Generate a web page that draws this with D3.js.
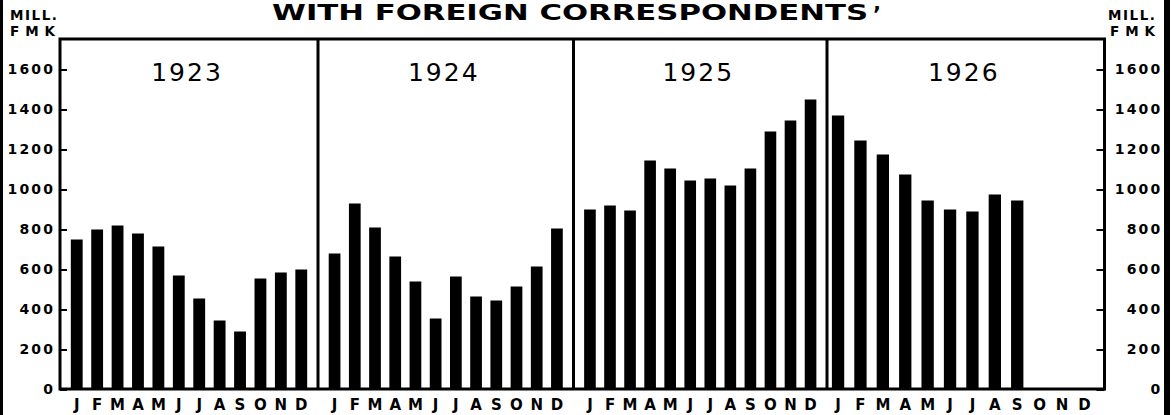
<!DOCTYPE html>
<html>
<head>
<meta charset="utf-8">
<script src="https://cdn.jsdelivr.net/npm/d3@7"></script>
<style>
  html, body { margin: 0; padding: 0; background: #fff; }
  svg { display: block; }
</style>
</head>
<body>
<svg id="chart" width="1172" height="415"></svg>
<script>
// ---- data ----
const titleText = "WITH FOREIGN CORRESPONDENTS";
const unitLine1 = "MILL.";
const unitLine2 = "FMK";
const years = ["1923", "1924", "1925", "1926"];
const months = ["J", "F", "M", "A", "M", "J", "J", "A", "S", "O", "N", "D"];
const values1923 = [750, 800, 820, 780, 715, 570, 455, 345, 290, 555, 585, 600];
const values1924 = [680, 930, 810, 665, 540, 355, 565, 465, 445, 515, 615, 805];
const values1925 = [900, 920, 895, 1145, 1105, 1045, 1055, 1020, 1105, 1290, 1345, 1450];
const values1926 = [1370, 1245, 1175, 1075, 945, 900, 890, 975, 945, null, null, null];
const yTicks = [0, 200, 400, 600, 800, 1000, 1200, 1400, 1600];

const seriesByYear = [values1923, values1924, values1925, values1926];

// ---- layout ----
const svg = d3.select("#chart");
const W = 1172, H = 415;
const plotLeft = 60, plotRight = 1104.5, plotTop = 39, plotBottom = 389;
const panelEdges = [plotLeft, 318, 573.5, 827, plotRight];

svg.append("rect").attr("width", W).attr("height", H).attr("fill", "#fff");

const y = d3.scaleLinear().domain([0, 1750]).range([389.5, 39.5]);

const boldFont = "'DejaVu Sans', sans-serif";

// panel scales (one band scale per year panel)
const panelScales = years.map((yr, i) => {
  const s = d3.scaleBand().domain(d3.range(12)).range([panelEdges[i], panelEdges[i + 1]]);
  if (i === 3) s.paddingInner(0.45).paddingOuter(0.42).align(0.26);
  else s.paddingInner(0.42).paddingOuter(0.53).align(0.5);
  return s;
});

// bars
years.forEach((yr, i) => {
  const x = panelScales[i];
  const data = seriesByYear[i].map((v, m) => ({ v, m })).filter(d => d.v != null);
  svg.append("g").selectAll("rect").data(data).join("rect")
    .attr("x", d => x(d.m))
    .attr("width", x.bandwidth())
    .attr("y", d => y(d.v))
    .attr("height", d => y(0) - y(d.v))
    .attr("fill", "#000");

  // month labels
  svg.append("g").selectAll("text").data(months).join("text")
    .attr("x", (d, m) => x(m) + x.bandwidth() / 2)
    .attr("y", 410)
    .attr("text-anchor", "middle")
    .attr("font-family", boldFont)
    .attr("font-weight", "bold")
    .attr("font-size", 15)
    .attr("fill", "#000")
    .text(d => d);

  // year label
  svg.append("text")
    .attr("x", (panelEdges[i] + panelEdges[i + 1]) / 2 - 2)
    .attr("y", 81)
    .attr("text-anchor", "middle")
    .attr("font-family", "'DejaVu Sans', sans-serif")
    .attr("font-size", 25)
    .attr("letter-spacing", 2)
    .attr("fill", "#000")
    .text(yr);
});

// axes (inward ticks)
const leftAxis = d3.axisLeft(y).tickValues(yTicks).tickSize(-7).tickPadding(7).tickFormat(d3.format("d"));
const gl = svg.append("g").attr("transform", `translate(${plotLeft},0)`).call(leftAxis);
gl.select(".domain").remove();
gl.selectAll(".tick line").attr("stroke", "#000").attr("stroke-width", 2);
gl.selectAll(".tick text")
  .attr("font-family", boldFont).attr("font-weight", "bold").attr("font-size", 14)
  .attr("letter-spacing", 2.2).attr("fill", "#000").attr("dx", 2.2);

const rightAxis = d3.axisRight(y).tickValues(yTicks).tickSize(-8).tickPadding(0).tickFormat(d3.format("d"));
const gr = svg.append("g").attr("transform", `translate(${plotRight},0)`).call(rightAxis);
gr.select(".domain").remove();
gr.selectAll(".tick line").attr("stroke", "#000").attr("stroke-width", 2);
gr.selectAll(".tick text")
  .attr("text-anchor", "end").attr("x", 58)
  .attr("font-family", boldFont).attr("font-weight", "bold").attr("font-size", 14)
  .attr("letter-spacing", 2.2).attr("fill", "#000");

// frame and panel dividers
svg.append("rect")
  .attr("x", plotLeft).attr("y", plotTop)
  .attr("width", plotRight - plotLeft).attr("height", plotBottom - plotTop)
  .attr("fill", "none").attr("stroke", "#000").attr("stroke-width", 3);
svg.append("g").selectAll("line").data(panelEdges.slice(1, 4)).join("line")
  .attr("x1", d => d).attr("x2", d => d)
  .attr("y1", plotTop).attr("y2", plotBottom)
  .attr("stroke", "#000").attr("stroke-width", 3);

// page edge lines (scan border)
svg.append("line").attr("x1", 1.5).attr("x2", 1.5).attr("y1", 0).attr("y2", H)
  .attr("stroke", "#000").attr("stroke-width", 3);
svg.append("line").attr("x1", 1167).attr("x2", 1167).attr("y1", 0).attr("y2", H)
  .attr("stroke", "#000").attr("stroke-width", 6);

// title
svg.append("text")
  .attr("x", 272).attr("y", 19.5)
  .attr("textLength", 596).attr("lengthAdjust", "spacingAndGlyphs")
  .attr("font-family", boldFont).attr("font-weight", "bold").attr("font-size", 21)
  .attr("fill", "#000")
  .text(titleText);
svg.append("text")
  .attr("x", 873).attr("y", 22)
  .attr("font-family", boldFont).attr("font-weight", "bold").attr("font-size", 21)
  .attr("fill", "#000")
  .text("’");

// unit labels
const unitPos = [{ x: 10, x2: 10 }, { x: 1108, x2: 1110 }];
unitPos.forEach(p => {
  svg.append("text").attr("x", p.x).attr("y", 20)
    .attr("textLength", 47).attr("lengthAdjust", "spacing")
    .attr("font-family", boldFont).attr("font-weight", "bold").attr("font-size", 13.5)
    .attr("fill", "#000").text(unitLine1);
  svg.append("text").attr("x", p.x2).attr("y", 36)
    .attr("textLength", 45).attr("lengthAdjust", "spacing")
    .attr("font-family", boldFont).attr("font-weight", "bold").attr("font-size", 13.5)
    .attr("fill", "#000").text(unitLine2);
});
</script>
</body>
</html>
